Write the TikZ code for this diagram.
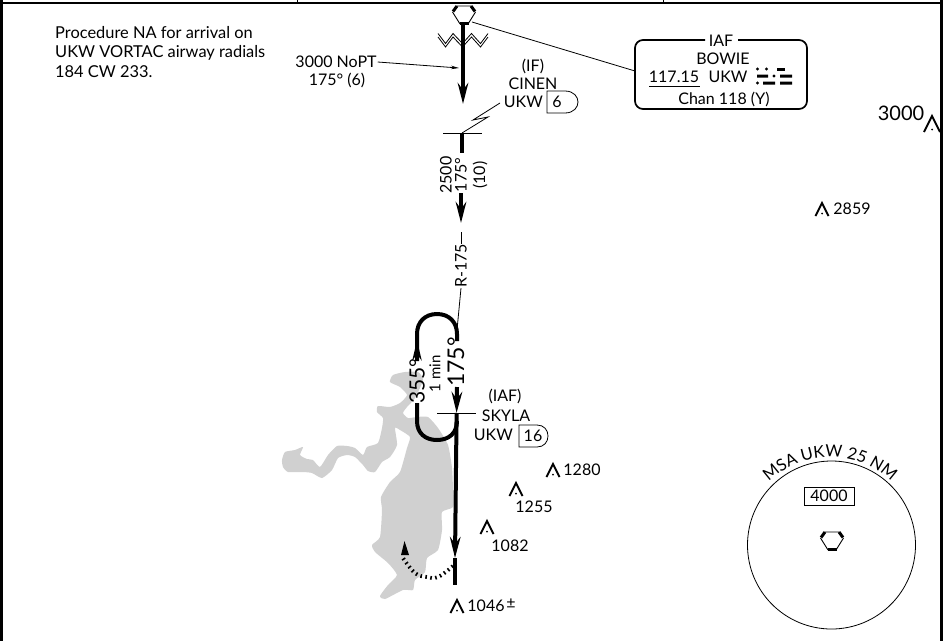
\documentclass[tikz,border=0pt]{standalone}
\usepackage{fontspec}
\setmainfont{Lato}
\usetikzlibrary{arrows.meta,decorations.text,calc}
\definecolor{lake}{HTML}{D0D0D0}
\newcommand{\fs}[1]{\fontsize{#1}{#1}\selectfont}
\newcommand{\hexsym}[2]{%
  \begin{scope}[shift={(#1,#2)}]
    \draw[line width=.9pt] (-7,-6)--(7,-6) (-11.5,0)--(-4,12) (11.5,0)--(4,12);
    \draw[line width=3pt] (-7,-6)--(-11,-.5) (7,-6)--(11,-.5);
    \fill (-4.5,9.5) rectangle (4.5,13);
  \end{scope}}
\newcommand{\peak}[4]{%
  \draw[line width=1.9pt] (#1-#3,#2+#4)--(#1,#2)--(#1+#3,#2+#4);
  \fill (#1,#2+#4-2.5) circle[radius=1];}
\tikzset{
  txt/.style={inner sep=0pt,font=\fs{16},text=black},
  thin line/.style={line width=.8pt},
  route/.style={line width=4pt},
  routearrow/.style={line width=4pt,-{Stealth[length=21pt,width=10.5pt,inset=7pt]}},
  fixbox/.style={line width=.8pt,rounded corners=0pt}
}
\begin{document}
\begin{tikzpicture}[x=1pt,y=-1pt]
\useasboundingbox (0,0) rectangle (943,641);
\fill[white] (0,0) rectangle (943,641);
% lake
\fill[lake] plot[smooth cycle,tension=.35] coordinates {
(282,460)(285,452)(295,450)(303,447)(300,455)(307,459)(313,460)(320,467)(328,455)(337,446)(347,446)(355,448)(363,455)(367,447)(378,443)(382,428)(383,418)(377,412)(378,406)(390,407)(400,403)(407,395)(400,387)(390,382)(393,375)(405,372)(418,372)(423,380)(415,398)(407,407)(403,413)(408,418)(417,417)(428,417)(438,428)(448,445)(452,468)(453,490)(453,507)(442,512)(442,530)(438,550)(427,558)(425,572)(415,580)(413,590)(403,590)(385,599)(380,596)(388,585)(397,575)(388,563)(375,552)(372,545)(380,537)(382,510)(381,497)(390,482)(400,472)(407,448)(410,437)(400,430)(395,428)(397,445)(390,457)(382,462)(375,472)(368,471)(363,465)(355,457)(347,455)(338,458)(332,470)(322,478)(312,473)(303,472)(288,472)(283,467)};
% note
\node[txt,font=\fs{16.4},anchor=west] (note1) at (55,33) {Procedure NA for arrival on};
\node[txt,font=\fs{16.4},anchor=west] (note2) at (55,53) {UKW VORTAC airway radials};
\node[txt,font=\fs{16.4},anchor=west] (note3) at (55,72) {184 CW 233.};
% station
\hexsym{464}{12}
\coordinate (st) at (463,25);
\coordinate (a1) at (463,104);
\draw[routearrow] (st)--(a1);
\foreach \d in {0,3.5}{
  \draw[line width=.8pt,yshift=\d] (438,37)--(445.5,47)--(453,37)--(462.5,47)--(471.5,37)--(480.5,47)--(488,37);}
\node[txt] (nopt) at (336,62) {3000 NoPT};
\node[txt] (nopt2) at (337,80) {175° (6)};
\coordinate (nopt3) at (459,68);
\draw[thin line,-{Stealth[length=8pt,width=3.5pt]}] (nopt.east)++(1,0)--(nopt3);
% IF
\node[txt] (if) at (533,66) {(IF)};
\node[txt] (cinen) at (533,84) {CINEN};
\node[txt,anchor=east] (ukw1) at (543,102) {UKW};
\draw[fixbox] (547,91)--(565,91) .. controls (574,91) and (578,97) .. (578,102) .. controls (578,107) and (574,113) .. (565,113)--(547,113)--cycle;
\node[txt] (six) at (557,102) {6};
\coordinate (ifx) at (462,133);
\draw[thin line] (ifx)--(488,117)--(473,120)--(500,103);
\draw[thin line] (443,133)--(482,133);
\coordinate (b0) at (462,133);
\coordinate (b1) at (462,153);
\draw[route] (b0)--(b1);
\node[txt,rotate=90] (t2500) at (446,175) {2500};
\node[txt,rotate=90] (t175a) at (461,175) {175°};
\node[txt,rotate=90] (t10) at (480,175) {(10)};
\coordinate (c0) at (461,193);
\coordinate (c1) at (461,223);
\draw[routearrow] (c0)--(c1);
\node[txt,rotate=90] (r175) at (461,266) {R-175};
\coordinate (rtop) at (461,232);
\coordinate (rbot) at (457,330);
\draw[thin line] (rtop)--(r175.east);
\draw[thin line] (r175.west)--(rbot);
% racetrack
\coordinate (h0) at (417,361);
\coordinate (h1) at (457,341);
\draw[route] (h0)--(417,334) .. controls (417,322) and (425,314) .. (437,314) .. controls (449,314) and (457,322) .. (457,334)--(h1);
\draw[route,-{Stealth[length=20pt,width=9pt,inset=6pt]}] (417,361)--(417,340);
\coordinate (l0) at (417,403);
\draw[route] (l0)--(417,421) .. controls (417,433) and (425,440) .. (437,440) .. controls (449,440) and (457,433) .. (457,421);
\node[inner sep=0pt,rotate=90,font=\fs{21}] (d355) at (417,381) {355°};
\node[inner sep=0pt,rotate=90,font=\fs{15}] (min) at (435,374) {1 min};
\node[inner sep=0pt,rotate=90,font=\fs{23}] (d175) at (456,362) {175°};
\coordinate (m0) at (457,387);
\coordinate (m1) at (456.6,413);
\coordinate (m2) at (455,558);
\draw[routearrow] (m0)--(m1);
\draw[routearrow] (m1)--(m2);
\draw[thin line] (437,413)--(476,413);
\coordinate (n0) at (454.5,558);
\coordinate (n1) at (454.5,585);
\draw[route] (n0)--(n1);
% SKYLA
\node[txt] (iafa) at (505,396) {(IAF)};
\node[txt] (skyla) at (506,416) {SKYLA};
\node[txt,anchor=east] (ukw2) at (513,435) {UKW};
\draw[fixbox] (519,425)--(537,425) .. controls (544,425) and (548,430) .. (548,436) .. controls (548,442) and (544,447) .. (537,447)--(519,447)--cycle;
\node[txt] (n16) at (533,436) {16};
% turn
\draw[line width=3.8pt,dash pattern=on 1.6pt off 3.4pt] plot[smooth,tension=.7] coordinates {(453,566)(438,577)(427,577)(415,573)(403,558)};
\fill (404.5,541)--(409,555)--(401,555)--cycle;
% obstacles
\peak{822}{203}{6.5}{13}
\node[txt] (p2859) at (852,209) {2859};
\peak{932}{116}{8}{16}
\node[inner sep=0pt,font=\fs{20}] (p3000) at (901,113) {3000};
\peak{553}{464}{6.5}{13}
\node[txt] (p1280) at (582,470) {1280};
\peak{516}{483}{6.5}{13}
\node[txt] (p1255) at (534,507) {1255};
\peak{487}{521}{6.5}{13}
\node[txt] (p1082) at (510,546) {1082};
\peak{457}{600}{6.5}{13}
\node[txt] (p1046) at (486,606) {1046};
\node[txt] (ppm) at (511,604) {±};
% IAF box
\coordinate (bl) at (635,71);
\coordinate (hx) at (472,22);
\draw[thin line] (hx)--(bl);
\draw[line width=1.7pt,rounded corners=8pt] (705,40)--(635,40)--(635,109)--(807,109)--(807,40)--(738,40);
\node[txt] (iafb) at (721,41) {IAF};
\node[txt] (bowie) at (723,59) {BOWIE};
\node[txt] (freq) at (674,77) {117.15};
\draw[line width=.8pt] (649,86)--(700,86);
\node[txt] (ukw3) at (728,77) {UKW};
\node[txt] (chan) at (724,99) {Chan 118 (Y)};
% morse
\fill (757.5,69) circle[radius=1.6] (766.5,69) circle[radius=1.6] (757.5,83) circle[radius=1.6] (774,76) circle[radius=1.6];
\fill (777,67.5) rectangle (785,70.5);
\fill (757,74.5) rectangle (768,77.5) (780,74.5) rectangle (792,77.5);
\fill (763,81.5) rectangle (775,84.5) (780,81.5) rectangle (792,84.5);
% MSA
\draw[line width=.8pt] (831.5,545) circle[radius=84];
\path[decorate,decoration={text along path,text align=center,text={|\fs{16.5}|MSA UKW 25 NM}}]
  (830,545) ++(-140:88) arc[start angle=-140,end angle=-40,radius=88];
\node[draw,line width=.8pt,minimum width=50pt,minimum height=18pt,inner sep=0pt,font=\fs{16}] (msa) at (829,496) {4000};
\hexsym{832}{538}
% frame
\draw[line width=2.6pt] (0,3)--(943,3);
\draw[line width=1pt] (297,0)--(297,3) (663,0)--(663,3);
\draw[line width=2.8pt] (1.2,0)--(1.2,641) (941.5,0)--(941.5,641);
\end{tikzpicture}
\end{document}
